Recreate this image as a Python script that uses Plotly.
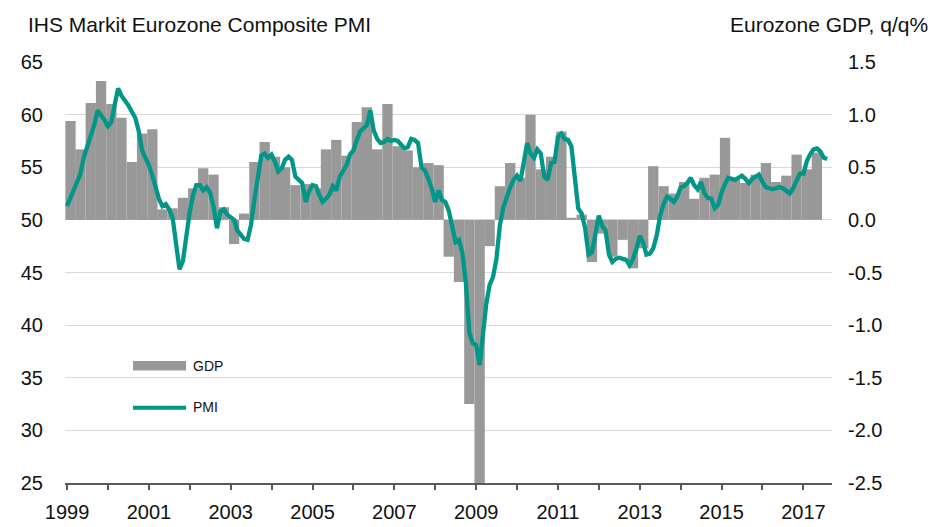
import plotly.graph_objects as go
import pandas as pd

# IHS Markit Eurozone Composite PMI, monthly from Jan 1999 to Aug 2017
pmi = [
    51.3, 52.0, 52.8, 53.6, 54.4, 56.0, 56.9, 57.9, 59.0, 60.4, 60.0, 59.5,  # 1999
    58.9, 59.3, 60.9, 62.5, 61.8, 61.4, 60.9, 60.3, 59.7, 58.5, 56.6, 55.9,  # 2000
    55.2, 54.2, 53.0, 52.0, 51.3, 51.5, 51.0, 50.2, 47.7, 45.3, 46.1, 48.6,  # 2001
    50.8, 52.4, 53.3, 53.3, 52.8, 53.1, 52.6, 51.3, 49.2, 50.8, 51.0, 50.5,  # 2002
    50.3, 50.0, 49.0, 48.6, 48.2, 48.1, 49.5, 51.9, 54.1, 56.1, 56.3, 55.9,  # 2003
    56.2, 55.5, 54.6, 54.9, 55.7, 56.0, 55.7, 54.1, 53.8, 53.5, 51.7, 52.7,  # 2004
    53.3, 53.2, 52.4, 51.7, 52.0, 52.4, 53.2, 52.8, 54.1, 54.7, 55.2, 56.2,  # 2005
    56.6, 57.6, 58.4, 58.7, 59.0, 60.4, 58.5, 57.7, 57.3, 57.4, 57.7, 57.5,  # 2006
    57.6, 57.5, 57.2, 56.8, 56.9, 57.7, 57.6, 57.3, 55.0, 54.7, 53.9, 53.0,  # 2007
    51.7, 52.8, 51.9, 51.7, 50.9, 49.5, 47.9, 48.1, 46.8, 44.0, 39.3, 38.3,  # 2008
    38.1, 36.2, 39.0, 42.0, 43.8, 44.6, 46.3, 49.5, 51.2, 52.2, 53.1, 53.8,  # 2009
    54.2, 53.7, 55.5, 57.3, 56.3, 55.9, 56.7, 56.3, 54.1, 53.8, 55.4, 55.5,  # 2010
    57.9, 58.2, 57.7, 57.6, 57.0, 53.6, 51.1, 50.6, 49.2, 46.7, 46.9, 48.6,  # 2011
    50.4, 49.4, 49.0, 46.7, 46.0, 46.3, 46.4, 46.3, 46.2, 45.7, 46.3, 47.2,  # 2012
    48.5, 47.8, 46.7, 46.8, 47.3, 48.5, 50.4, 51.5, 52.2, 52.0, 51.7, 52.2,  # 2013
    53.1, 53.2, 53.5, 54.0, 53.3, 52.9, 53.6, 52.5, 52.1, 52.0, 51.1, 51.4,  # 2014
    52.6, 53.4, 54.0, 53.9, 53.8, 54.0, 54.2, 53.9, 53.5, 53.9, 54.1, 54.3,  # 2015
    53.6, 53.1, 53.0, 52.9, 53.0, 53.1, 53.0, 52.8, 52.5, 53.0, 53.8, 54.4,  # 2016
    54.4, 55.6, 56.2, 56.7, 56.8, 56.5, 55.9, 55.8,                          # 2017
]

# Eurozone GDP q/q %, quarterly from 1999 Q1 to 2017 Q2
gdp = [
    0.94, 0.67, 1.11, 1.32,
    1.10, 0.97, 0.55, 0.82,
    0.86, 0.10, 0.11, 0.21,
    0.30, 0.49, 0.43, 0.12,
    -0.23, 0.06, 0.55, 0.74,
    0.60, 0.50, 0.33, 0.34,
    0.30, 0.67, 0.76, 0.61,
    0.93, 1.07, 0.67, 1.10,
    0.70, 0.66, 0.50, 0.54,
    0.52, -0.35, -0.59, -1.75,
    -2.90, -0.25, 0.32, 0.54,
    0.40, 1.00, 0.48, 0.60,
    0.84, 0.02, 0.05, -0.40,
    -0.13, -0.35, -0.19, -0.46,
    -0.27, 0.51, 0.32, 0.25,
    0.36, 0.20, 0.40, 0.43,
    0.78, 0.38, 0.35, 0.43,
    0.54, 0.36, 0.42, 0.62,
    0.48, 0.64,
]

pmi_ticks = [25, 30, 35, 40, 45, 50, 55, 60, 65]
gdp_ticks = [-2.5, -2.0, -1.5, -1.0, -0.5, 0.0, 0.5, 1.0, 1.5]
gdp_labels = ["-2.5", "-2.0", "-1.5", "-1.0", "-0.5", "0.0", "0.5", "1.0", "1.5"]
years = list(range(1999, 2018))

months = pd.date_range("1999-01-01", periods=len(pmi), freq="MS")
quarters = pd.date_range("1999-02-01", periods=len(gdp), freq="3MS")

FONT = "Arial, Liberation Sans, sans-serif"
TEAL = "#009688"
GREY = "#999999"

fig = go.Figure()

fig.add_trace(go.Bar(
    x=quarters, y=gdp,
    width=92 * 24 * 3600 * 1000,
    marker=dict(color=GREY, line=dict(width=0)),
    yaxis="y",
    showlegend=False,
))

fig.add_trace(go.Scatter(
    x=months, y=pmi,
    mode="lines",
    line=dict(color=TEAL, width=4.3),
    yaxis="y2",
    showlegend=False,
))

# the page body has an 8px margin, so the figure is 8px smaller than the window
fig.update_layout(
    width=937, height=519,
    margin=dict(l=57, r=113, t=54, b=44),
    paper_bgcolor="white", plot_bgcolor="white",
    font=dict(family=FONT, size=20, color="#111111"),
    xaxis=dict(
        type="date",
        range=["1998-12-14", "2017-09-13"],
        tickmode="array",
        tickvals=[f"{y}-01-01" for y in years],
        ticktext=[str(y) if (y - 1999) % 2 == 0 else "" for y in years],
        ticks="outside", ticklen=5, tickwidth=1.5, tickcolor="#595959",
        showline=True, linecolor="#595959", linewidth=2,
        showgrid=False, zeroline=False,
        tickfont=dict(size=20),
        ticklabelstandoff=5,
        automargin=False,
    ),
    yaxis=dict(
        side="right",
        range=[-2.5, 1.5],
        tickmode="array", tickvals=gdp_ticks, ticktext=gdp_labels,
        showgrid=True, gridcolor="#d9d9d9", gridwidth=1.3,
        zeroline=False, showline=False, ticks="",
        tickfont=dict(size=20),
        ticklabelstandoff=15,
        automargin=False,
    ),
    yaxis2=dict(
        overlaying="y", side="left",
        range=[25, 65],
        tickmode="array", tickvals=pmi_ticks,
        showgrid=False, zeroline=False, showline=False, ticks="",
        tickfont=dict(size=20),
        ticklabelstandoff=21,
        automargin=False,
    ),
)

# hand-drawn legend, as in the original
fig.add_shape(type="rect", xref="paper", yref="paper",
              x0=0.0887, x1=0.1578, y0=0.267, y1=0.290,
              fillcolor=GREY, line=dict(width=0))
fig.add_shape(type="line", xref="paper", yref="paper",
              x0=0.0887, x1=0.1578, y0=0.179, y1=0.179,
              line=dict(color=TEAL, width=4))
fig.add_annotation(text="GDP", xref="paper", yref="paper", x=0.1638, y=0.2786,
                   xanchor="left", yanchor="middle", showarrow=False,
                   font=dict(size=14, color="#111111"))
fig.add_annotation(text="PMI", xref="paper", yref="paper", x=0.1638, y=0.1805,
                   xanchor="left", yanchor="middle", showarrow=False,
                   font=dict(size=14, color="#111111"))

# axis titles above the plot
fig.add_annotation(text="IHS Markit Eurozone Composite PMI", xref="paper", yref="paper",
                   x=-0.0508, y=1.088, xanchor="left", yanchor="middle",
                   showarrow=False, font=dict(size=21, color="#111111"))
fig.add_annotation(text="Eurozone GDP, q/q%", xref="paper", yref="paper",
                   x=1.128, y=1.088, xanchor="right", yanchor="middle",
                   showarrow=False, font=dict(size=21, color="#111111"))

fig.write_html("out.html")
